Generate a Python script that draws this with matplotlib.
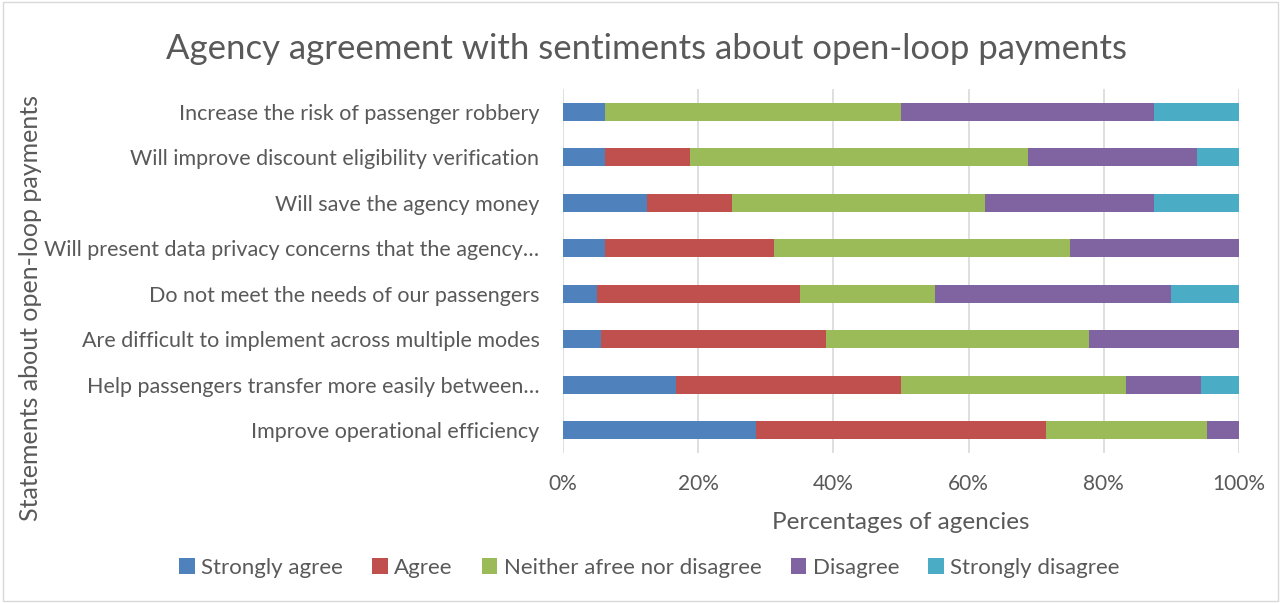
import numpy as np
import matplotlib.pyplot as plt
from matplotlib.patches import Rectangle

plt.rcParams['font.family'] = ['Lato', 'DejaVu Sans']

statements = [
    "Increase the risk of passenger robbery",
    "Will improve discount eligibility verification",
    "Will save the agency money",
    "Will present data privacy concerns that the agency\u2026",
    "Do not meet the needs of our passengers",
    "Are difficult to implement across multiple modes",
    "Help passengers transfer more easily between\u2026",
    "Improve operational efficiency",
]
levels = ["Strongly agree", "Agree", "Neither afree nor disagree", "Disagree", "Strongly disagree"]
colors = ["#4F81BD", "#C0504D", "#9BBB59", "#8064A2", "#4BACC6"]

strongly_agree = [6.25, 6.25, 12.5, 6.25, 5.0, 5.56, 16.67, 28.57]
agree = [0.0, 12.5, 12.5, 25.0, 30.0, 33.33, 33.33, 42.86]
neither = [43.75, 50.0, 37.5, 43.75, 20.0, 38.89, 33.33, 23.81]
disagree = [37.5, 25.0, 25.0, 25.0, 35.0, 22.22, 11.11, 4.76]
strongly_disagree = [12.5, 6.25, 12.5, 0.0, 10.0, 0.0, 5.56, 0.0]

series = [strongly_agree, agree, neither, disagree, strongly_disagree]
text_col = "#595959"

fig = plt.figure(figsize=(12.81, 6.03), dpi=100)
fig.patches.append(Rectangle((0.002, 0.003), 0.996, 0.994, transform=fig.transFigure,
                             fill=False, edgecolor="#D9D9D9", linewidth=1))
ax = fig.add_axes([0.4395, 0.2488, 0.5277, 0.6036])

y = np.arange(len(statements))
left = np.zeros(len(statements))
for vals, name, col in zip(series, levels, colors):
    vals = np.array(vals)
    ax.barh(y, vals, left=left, height=0.4, color=col, label=name, zorder=3)
    left += vals

ax.set_xlim(0, 100)
ax.set_ylim(len(statements) - 0.5, -0.5)
ax.set_xticks(np.arange(0, 101, 20))
ax.set_xticklabels([f"{v}%" for v in range(0, 101, 20)])
ax.set_yticks(y)
ax.set_yticklabels(statements)
ax.grid(axis="x", color="#D9D9D9", linewidth=1.2, zorder=0)
for s in ax.spines.values():
    s.set_visible(False)
ax.tick_params(axis="x", length=0, colors=text_col, labelsize=15, pad=15)
ax.tick_params(axis="y", length=0, colors=text_col, labelsize=15.5, pad=17)

ax.set_xlabel("Percentages of agencies", fontsize=17.5, color=text_col, labelpad=13)
fig.text(0.024, 0.49, "Statements about open-loop payments", rotation=90, fontsize=18,
         color=text_col, ha="center", va="center")
fig.text(0.505, 0.918, "Agency agreement with sentiments about open-loop payments",
         fontsize=25, color=text_col, ha="center", va="center")

fig.legend(loc="center", bbox_to_anchor=(0.507, 0.058), ncol=5, frameon=False,
           fontsize=16, handlelength=0.7, handleheight=0.7, handletextpad=0.3,
           columnspacing=1.3, labelcolor=text_col)

fig.savefig("out.png", dpi=100)
